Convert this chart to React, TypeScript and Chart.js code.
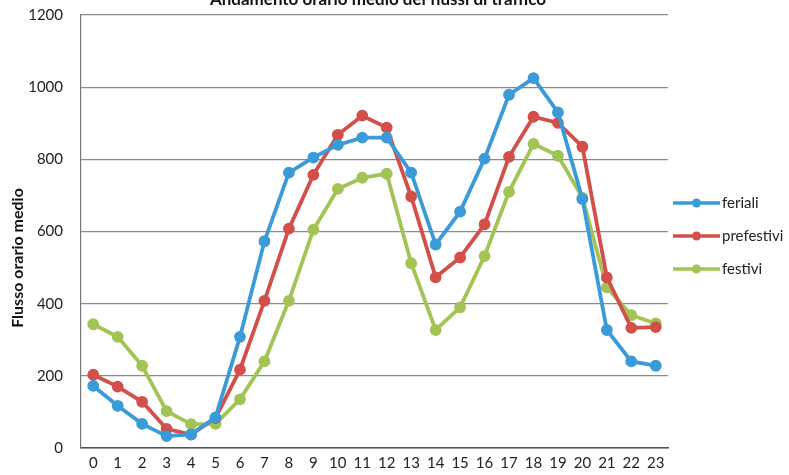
import React, { useEffect, useRef } from "react";
import { Chart, registerables } from "chart.js";

Chart.register(...registerables);

const hours = ["0","1","2","3","4","5","6","7","8","9","10","11","12","13","14","15","16","17","18","19","20","21","22","23"];
const feriali = [172,117,67,33,38,85,308,573,763,805,840,860,860,763,564,655,802,979,1025,930,690,327,240,228];
const prefestivi = [203,170,128,53,37,83,217,408,608,757,868,921,888,697,473,528,620,807,918,901,835,473,333,335];
const festivi = [343,308,228,102,66,67,135,240,408,605,718,749,760,512,327,390,532,710,843,810,694,445,368,345];
const seriesNames = ["feriali", "prefestivi", "festivi"];
const seriesColors = ["#3b9ad8", "#d24f4a", "#a2c454"];
const titleText = "Andamento orario medio dei flussi di traffico";
const yTitleText = "Flusso orario medio";

const FONT = "Lato, 'Open Sans', sans-serif";
const SHIFT = 20; // canvas shifted up so the title is cropped like the scan

const customDraw = {
  id: "customDraw",
  afterDraw(chart: any) {
    const ctx = chart.ctx;
    ctx.save();
    // title (cropped at top)
    ctx.fillStyle = "#111";
    ctx.font = `bold 17px ${FONT}`;
    ctx.textAlign = "center";
    ctx.textBaseline = "alphabetic";
    ctx.fillText(titleText, 378, 25);
    // y-axis title
    ctx.save();
    ctx.translate(18, 258 + SHIFT);
    ctx.rotate(-Math.PI / 2);
    ctx.font = `bold 16px ${FONT}`;
    ctx.textAlign = "center";
    ctx.textBaseline = "middle";
    ctx.fillText(yTitleText, 0, 0);
    ctx.restore();
    // legend
    chart.data.datasets.forEach((ds: any, i: number) => {
      const y = 203 + SHIFT + i * 33;
      const x0 = chart.chartArea.right + 5;
      const x1 = x0 + 47;
      ctx.strokeStyle = ds.borderColor;
      ctx.lineWidth = 3.5;
      ctx.beginPath();
      ctx.moveTo(x0, y);
      ctx.lineTo(x1, y);
      ctx.stroke();
      ctx.fillStyle = ds.borderColor;
      ctx.beginPath();
      ctx.arc((x0 + x1) / 2, y, 4.5, 0, Math.PI * 2);
      ctx.fill();
      ctx.fillStyle = "#222";
      ctx.font = `15px ${FONT}`;
      ctx.textAlign = "left";
      ctx.textBaseline = "middle";
      ctx.fillText(ds.label, x1 + 2, y);
    });
    ctx.restore();
  },
};

export default function App() {
  const ref = useRef<HTMLCanvasElement>(null);
  useEffect(() => {
    if (!ref.current) return;
    const data = [feriali, prefestivi, festivi];
    const chart = new Chart(ref.current, {
      type: "line",
      data: {
        labels: hours,
        datasets: seriesNames.map((name, i) => ({
          label: name,
          data: data[i],
          borderColor: seriesColors[i],
          backgroundColor: seriesColors[i],
          pointBackgroundColor: seriesColors[i],
          pointBorderColor: seriesColors[i],
          borderWidth: 3.8,
          pointRadius: 4,
          tension: 0,
          fill: false,
        })),
      },
      options: {
        responsive: false,
        animation: false,
        devicePixelRatio: 1,
        layout: { padding: { top: 15 + SHIFT, right: 121, left: 0, bottom: 0 } },
        plugins: {
          legend: { display: false },
          title: { display: false },
          tooltip: { enabled: false },
        },
        scales: {
          x: {
            type: "category",
            offset: true,
            grid: { display: false, drawTicks: false },
            border: { display: true, color: "#555", width: 1.5 },
            ticks: {
              padding: 6,
              maxRotation: 0,
              autoSkip: false,
              color: "#222",
              font: { family: FONT, size: 15 },
            },
            afterFit: (scale: any) => {
              scale.height = 26;
            },
          },
          y: {
            min: 0,
            max: 1200,
            ticks: {
              stepSize: 200,
              padding: 18,
              color: "#222",
              font: { family: FONT, size: 15 },
              callback: (v: any) => String(v),
            },
            grid: { color: "#8a8a8a", lineWidth: 1.2, drawTicks: false },
            border: { display: true, color: "#777", width: 1.2 },
            afterFit: (scale: any) => {
              scale.width = 81;
            },
          },
        },
      },
      plugins: [customDraw],
    });
    return () => chart.destroy();
  }, []);
  return (
    <div style={{ position: "absolute", left: 0, top: -SHIFT, width: 789, height: 475 + SHIFT, background: "#fff" }}>
      <canvas ref={ref} width={789} height={475 + SHIFT} style={{ width: 789, height: 475 + SHIFT }} />
    </div>
  );
}
